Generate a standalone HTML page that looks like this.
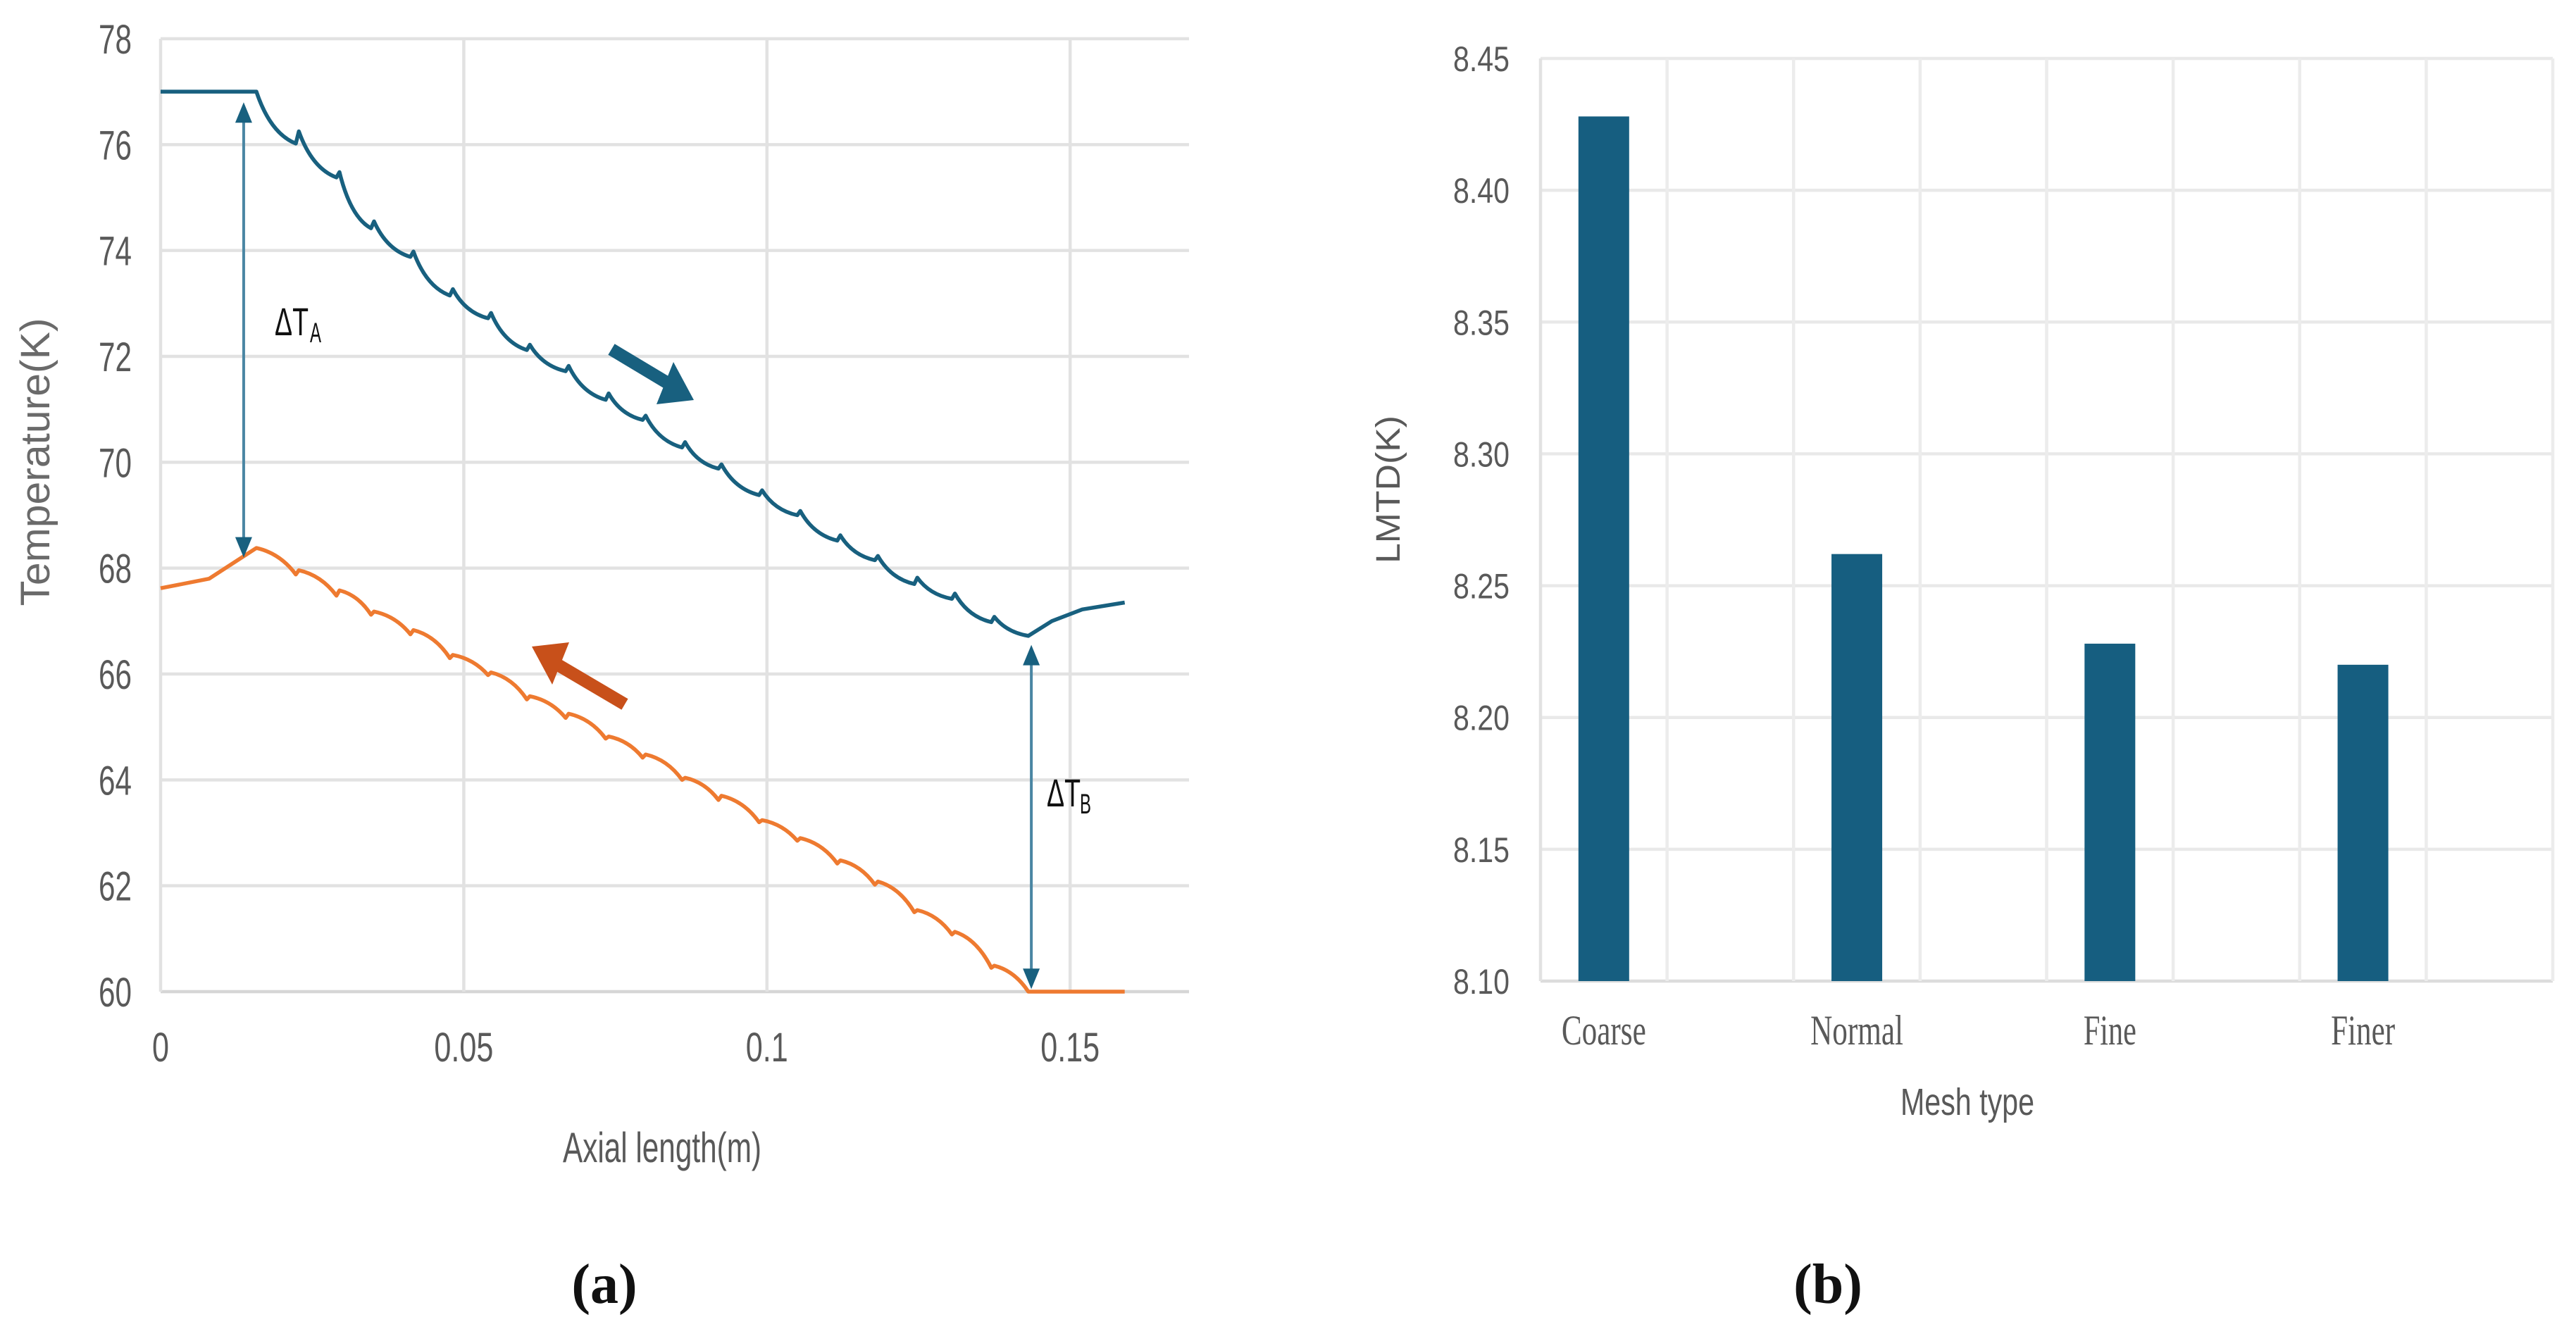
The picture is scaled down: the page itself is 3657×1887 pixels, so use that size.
<!DOCTYPE html>
<html><head><meta charset="utf-8">
<style>
html,body{margin:0;padding:0;background:#fff;}
svg{display:block;}
text{font-family:"Liberation Sans Narrow","Liberation Sans",sans-serif;fill:#595959;}
.serif{font-family:"Liberation Serif",serif;}
</style></head>
<body>
<svg id="fig" width="3657" height="1887" viewBox="0 0 3657 1887" xmlns="http://www.w3.org/2000/svg">
  <g id="chartA"></g>
  <g id="chartB"></g>
</svg>
<script>
// ---------- Chart (a) data ----------
const aXTicks = [0, 0.05, 0.1, 0.15];
const aXTickLabels = ["0", "0.05", "0.1", "0.15"];
const aYTicks = [60, 62, 64, 66, 68, 70, 72, 74, 76, 78];
const hotX = [0, 0.0158, 0.0223, 0.0228, 0.0290, 0.0295, 0.0347, 0.0352, 0.0412, 0.0417, 0.0477, 0.0482, 0.0540, 0.0545, 0.0604, 0.0609, 0.0668, 0.0673, 0.0734, 0.0739, 0.0795, 0.0800, 0.0860, 0.0865, 0.0920, 0.0925, 0.0987, 0.0992, 0.1050, 0.1055, 0.1116, 0.1121, 0.1178, 0.1183, 0.1243, 0.1248, 0.1305, 0.1310, 0.1370, 0.1375, 0.1431, 0.1470, 0.1520, 0.1590];
const hotY = [77.0, 77.0, 76.02, 76.25, 75.38, 75.48, 74.42, 74.55, 73.88, 73.98, 73.15, 73.27, 72.72, 72.82, 72.12, 72.22, 71.72, 71.82, 71.18, 71.3, 70.8, 70.88, 70.28, 70.38, 69.88, 69.96, 69.38, 69.47, 69.0, 69.08, 68.52, 68.62, 68.15, 68.23, 67.7, 67.82, 67.42, 67.52, 66.98, 67.08, 66.72, 67.0, 67.22, 67.35];
const coldX = [0, 0.008, 0.0158, 0.0223, 0.0228, 0.0290, 0.0295, 0.0347, 0.0352, 0.0412, 0.0417, 0.0477, 0.0482, 0.0540, 0.0545, 0.0604, 0.0609, 0.0668, 0.0673, 0.0734, 0.0739, 0.0795, 0.0800, 0.0860, 0.0865, 0.0920, 0.0925, 0.0987, 0.0992, 0.1050, 0.1055, 0.1116, 0.1121, 0.1178, 0.1183, 0.1243, 0.1248, 0.1305, 0.1310, 0.1370, 0.1375, 0.1431, 0.1590];
const coldY = [67.62, 67.8, 68.38, 67.88, 67.96, 67.48, 67.58, 67.12, 67.18, 66.75, 66.83, 66.3, 66.36, 65.98, 66.03, 65.52, 65.58, 65.17, 65.25, 64.78, 64.82, 64.42, 64.48, 64.0, 64.04, 63.62, 63.7, 63.2, 63.24, 62.85, 62.9, 62.42, 62.48, 62.02, 62.08, 61.5, 61.54, 61.08, 61.13, 60.45, 60.49, 60.0, 60.0];
const dTAx = 0.0137, dTAtop = 76.8, dTAbot = 68.2;
const dTBx = 0.1436, dTBtop = 66.55, dTBbot = 60.05;

// ---------- Chart (b) data ----------
const meshTypes = ["Coarse", "Normal", "Fine", "Finer"];
const lmtdValues = [8.428, 8.262, 8.228, 8.220];
const bYTicks = [8.10, 8.15, 8.20, 8.25, 8.30, 8.35, 8.40, 8.45];
const bYTickLabels = ["8.10", "8.15", "8.20", "8.25", "8.30", "8.35", "8.40", "8.45"];

const NS = "http://www.w3.org/2000/svg";
function mk(parent, tag, attrs, txt) {
  const e = document.createElementNS(NS, tag);
  for (const k in attrs) e.setAttribute(k, attrs[k]);
  if (txt !== undefined) e.textContent = txt;
  parent.appendChild(e);
  return e;
}
function narrowLen(s, dw, pw) {
  let w = 0;
  for (const c of s) w += (c === '.') ? pw : dw;
  return w;
}

// ---- Chart A ----
const A = document.getElementById('chartA');
const aL = 228, aR = 1688, aTop = 55, aBot = 1408;
const ax = x => aL + x / 0.05 * 430.4;
const ay = v => aTop + (78 - v) * (aBot - aTop) / 18;

aYTicks.forEach(v => {
  const l = mk(A, 'line', {x1: aL, x2: aR, y1: ay(v), y2: ay(v), stroke: v === 60 ? '#d6d6d6' : '#e2e2e2', 'stroke-width': 4.5});
  
  
  const s = String(v);
  const t = mk(A, 'text', {x: 187 - narrowLen(s, 23.5, 11), y: ay(v) + 21, 'font-size': 58, textLength: narrowLen(s, 23.5, 11), lengthAdjust: 'spacingAndGlyphs'}, s);
  
  
});
aXTicks.forEach((x, i) => {
  const l = mk(A, 'line', {x1: ax(x), x2: ax(x), y1: aTop, y2: aBot, stroke: '#e2e2e2', 'stroke-width': 4.5});
  
  
  const s = aXTickLabels[i];
  const w = narrowLen(s, 24, 12);
  const t = mk(A, 'text', {x: ax(x) - w / 2, y: 1507, 'font-size': 58, textLength: w, lengthAdjust: 'spacingAndGlyphs'}, s);
  
  
});

function hotPath() {
  let d = `M${ax(hotX[0])},${ay(hotY[0])} L${ax(hotX[1])},${ay(hotY[1])}`;
  for (let i = 2; i < hotX.length; i++) {
    const px = ax(hotX[i - 1]), py = ay(hotY[i - 1]), cx = ax(hotX[i]), cy = ay(hotY[i]);
    if (cy > py && i < hotX.length - 3) {
      const qx = px + (cx - px) * 0.35, qy = py + (cy - py) * 0.8;
      d += ` Q${qx},${qy} ${cx},${cy}`;
    } else d += ` L${cx},${cy}`;
  }
  return d;
}
function coldPath() {
  let d = `M${ax(coldX[0])},${ay(coldY[0])}`;
  for (let i = 1; i < coldX.length; i++) {
    const px = ax(coldX[i - 1]), py = ay(coldY[i - 1]), cx = ax(coldX[i]), cy = ay(coldY[i]);
    if (i === 1 || i === 2) {
      d += ` L${cx},${cy}`;
    } else if (cy > py && coldY[i] !== coldY[i-1]) {
      const qx = cx - (cx - px) * 0.4, qy = py + (cy - py) * 0.2;
      d += ` Q${qx},${qy} ${cx},${cy}`;
    } else d += ` L${cx},${cy}`;
  }
  return d;
}
const hot = mk(A, 'path', {d: hotPath(), fill: 'none', stroke: '#18607f', 'stroke-width': 5.5, 'stroke-linejoin': 'round'});


const cold = mk(A, 'path', {d: coldPath(), fill: 'none', stroke: '#ee7a30', 'stroke-width': 5.5, 'stroke-linejoin': 'round'});



function dArrow(x, v1, v2, name) {
  const X = ax(x), y1 = ay(v1), y2 = ay(v2);
  const g = mk(A, 'g', {});
  
  
  mk(g, 'line', {x1: X, x2: X, y1: y1 + 20, y2: y2 - 20, stroke: '#4a86a3', 'stroke-width': 4});
  mk(g, 'polygon', {points: `${X},${y1} ${X - 12},${y1 + 29} ${X + 12},${y1 + 29}`, fill: '#18607f'});
  mk(g, 'polygon', {points: `${X},${y2} ${X - 12},${y2 - 29} ${X + 12},${y2 - 29}`, fill: '#18607f'});
}
dArrow(dTAx, dTAtop, dTAbot, 'delta-ta-arrow');
dArrow(dTBx, dTBtop, dTBbot, 'delta-tb-arrow');
</script>
<script>
(function(){
  const A = document.getElementById('chartA');
  A.insertAdjacentHTML('beforeend', `
  <text x="390" y="476" font-size="56" textLength="48" lengthAdjust="spacingAndGlyphs" style="font-family:'Liberation Sans',sans-serif;fill:#111">ΔT</text>
  <text x="440" y="486" font-size="40" textLength="16" lengthAdjust="spacingAndGlyphs" style="font-family:'Liberation Sans',sans-serif;fill:#111">A</text>
  <text x="1486" y="1145" font-size="56" textLength="48" lengthAdjust="spacingAndGlyphs" style="font-family:'Liberation Sans',sans-serif;fill:#111">ΔT</text>
  <text x="1533" y="1155" font-size="40" textLength="16" lengthAdjust="spacingAndGlyphs" style="font-family:'Liberation Sans',sans-serif;fill:#111">B</text>
  <g>
    <line x1="868" y1="496" x2="948" y2="544" stroke="#18607f" stroke-width="18"/>
    <polygon points="985,568 932,574 956,514" fill="#18607f"/>
  </g>
  <g>
    <line x1="887" y1="1000" x2="792" y2="944" stroke="#c8501a" stroke-width="18"/>
    <polygon points="755,918 808,912 784,972" fill="#c8501a"/>
  </g>
  <text x="799" y="1650" font-size="60" textLength="282" lengthAdjust="spacingAndGlyphs">Axial length(m)</text>
  <text transform="translate(70,656) rotate(-90)" text-anchor="middle" font-size="58" textLength="409" lengthAdjust="spacingAndGlyphs" style="font-family:'Liberation Sans',sans-serif;fill:#6a6a6a">Temperature(K)</text>
  <text x="858" y="1850" text-anchor="middle" font-size="80" font-weight="bold" class="serif" style="fill:#111">(a)</text>
  `);
})();
</script>
<script>
(function(){
  const B = document.getElementById('chartB');
  const NS = "http://www.w3.org/2000/svg";
  function mk(parent, tag, attrs, txt) {
    const e = document.createElementNS(NS, tag);
    for (const k in attrs) e.setAttribute(k, attrs[k]);
    if (txt !== undefined) e.textContent = txt;
    parent.appendChild(e);
    return e;
  }
  const bL = 2187, bR = 3624, bTop = 83, bBot = 1393;
  const col = (bR - bL) / 8;
  const by = v => bBot - (v - 8.10) / 0.35 * (bBot - bTop);
  const bx = i => bL + (2 * i + 0.5) * col;
  bYTicks.forEach((v, i) => {
    const l = mk(B, 'line', {x1: bL, x2: bR, y1: by(v), y2: by(v), stroke: i === 0 ? '#dcdcdc' : '#e9e9e9', 'stroke-width': 4.5});
    
    
    const t = mk(B, 'text', {x: 2143 - 80, y: by(v) + 18, 'font-size': 50, textLength: 80, lengthAdjust: 'spacingAndGlyphs'}, bYTickLabels[i]);
    
    
  });
  for (let k = 0; k <= 8; k++) {
    const l = mk(B, 'line', {x1: bL + k * col, x2: bL + k * col, y1: bTop, y2: bBot, stroke: k === 0 ? '#e2e2e2' : '#ececec', 'stroke-width': 4.5});
    
    
  }
  const labW = [120, 132, 75, 91];
  meshTypes.forEach((m, i) => {
    const r = mk(B, 'rect', {x: bx(i) - 36, y: by(lmtdValues[i]), width: 72, height: bBot - by(lmtdValues[i]), fill: '#165e80'});
    
    
    const t = mk(B, 'text', {x: bx(i) - labW[i] / 2, y: 1483, 'font-size': 60, class: 'serif', textLength: labW[i], lengthAdjust: 'spacingAndGlyphs'}, m);
    
    
  });
  B.insertAdjacentHTML('beforeend', `
  <text x="2698" y="1583" font-size="54" textLength="190" lengthAdjust="spacingAndGlyphs">Mesh type</text>
  <text transform="translate(1987,695) rotate(-90)" text-anchor="middle" font-size="48" textLength="210" lengthAdjust="spacingAndGlyphs" style="font-family:'Liberation Sans',sans-serif">LMTD(K)</text>
  <text x="2595" y="1850" text-anchor="middle" font-size="80" font-weight="bold" class="serif" style="fill:#111">(b)</text>
  `);
})();
</script>
</body></html>
